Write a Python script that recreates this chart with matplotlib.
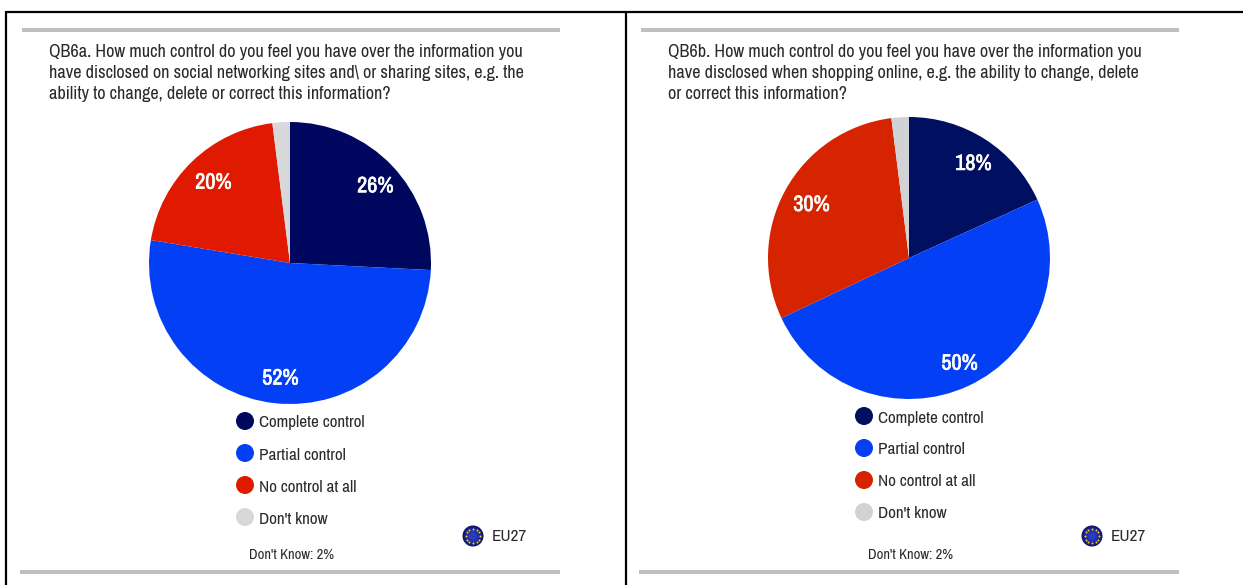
import matplotlib; matplotlib.use("Agg")
import matplotlib.pyplot as plt
import matplotlib.patheffects as pe
from matplotlib.patches import Circle, Rectangle
import numpy as np

W=1243; H=585
NAVY="#00075f"; BLUE="#0340f5"; RED="#e01a00"; LGREY="#d7d8da"; BAR="#bfbfbf"; TXT="#2a2a2a"
plt.rcParams["font.family"]=["Archivo Narrow","Liberation Sans","DejaVu Sans"]

categories=["Complete control","Partial control","No control at all","Don't know"]
# slice sizes as measured from the wedge edges, the printed labels round them
values_a=[25.8,51.8,20.4,2]
values_b=[18.2,49.8,30,2]
colors_a=[NAVY,BLUE,RED,LGREY]
colors_b=["#000f60","#0340f5","#d62400","#d0d2d6"]
title_a=["QB6a. How much control do you feel you have over the information you",
         "have disclosed on social networking sites and\\ or sharing sites, e.g. the",
         "ability to change, delete or correct this information?"]
title_b=["QB6b. How much control do you feel you have over the information you",
         "have disclosed when shopping online, e.g. the ability to change, delete",
         "or correct this information?"]
note="Don't Know: 2%"
region="EU27"

fig=plt.figure(figsize=(W/100,H/100),dpi=100,facecolor="white")
bg=fig.add_axes([0,0,1,1]); bg.set_xlim(0,W); bg.set_ylim(H,0); bg.axis("off")

# black frame lines
bg.plot([6,W],[11.5,11.5],color="black",lw=1.6,solid_capstyle="butt")
bg.plot([6.5,6.5],[11,H],color="black",lw=1.6,solid_capstyle="butt")
bg.plot([626.5,626.5],[11,H],color="black",lw=1.6,solid_capstyle="butt")

def flag(cx,cy,r=10.5):
    # small EU disc, shaded from the rim in
    for f,c in zip([1,.93,.8,.6,.35],["#0a0e5c","#121a80","#1a259c","#2231ae","#2c3cba"]):
        bg.add_patch(Circle((cx,cy),r*f,facecolor=c,edgecolor="none",zorder=3))
    a=np.linspace(0,2*np.pi,12,endpoint=False)
    bg.scatter(cx+r*.7*np.cos(a),cy+r*.7*np.sin(a),s=2,color="#f2d21c",linewidths=0,zorder=4)

def panel(x0,dy,cx,cy,vals,cols,title):
    # grey rules
    bg.add_patch(Rectangle((x0+2,28),538,4,facecolor=BAR,edgecolor="none"))
    bg.add_patch(Rectangle((x0,570),540,4,facecolor=BAR,edgecolor="none"))
    for i,line in enumerate(title):
        bg.text(x0+29,52+21*i,line,fontsize=13.1,color=TXT,va="center",ha="left")
    r=141
    ax=fig.add_axes([(cx-r)/W,1-(cy+r)/H,2*r/W,2*r/H]); ax.set_aspect("equal")
    _,_,labels=ax.pie(vals,colors=cols,startangle=90,counterclock=False,radius=1,
           autopct=lambda p:(f"{p:.0f}%" if p>=3 else ""),pctdistance=.81,
           wedgeprops=dict(linewidth=0),
           textprops=dict(color="white",fontsize=16))
    for t in labels:
        # no bold cut of the narrow face, so thicken it with a stroke
        x,y=t.get_position(); t.set_position((x+.018,y-.014))
        t.set_path_effects([pe.withStroke(linewidth=.45,foreground="white")])
    ax.set_xlim(-1,1); ax.set_ylim(-1,1)
    # legend by hand, the dots sit in a tight column
    for i,(c,lab) in enumerate(zip(cols,categories)):
        y=421-dy+32*i
        bg.add_patch(Circle((x0+225,y),9,facecolor=c,edgecolor="none"))
        bg.text(x0+239,y+2,lab,fontsize=12.3,color=TXT,va="center",ha="left")
    flag(x0+453,536)
    bg.text(x0+472,536.5,region,fontsize=12.4,color=TXT,va="center",ha="left")
    bg.text(x0+229,555,note,fontsize=10.5,color=TXT,va="center",ha="left")

panel(20,0,290,263,values_a,colors_a,title_a)
panel(639,5,909,258,values_b,colors_b,title_b)

fig.savefig("out.png",dpi=100)
